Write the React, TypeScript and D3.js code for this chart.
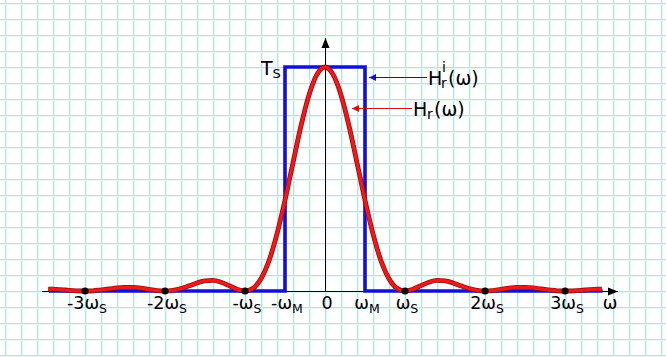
import React from "react";
import * as d3 from "d3";

// Reconstruction (ω in units of ωS, H in units of TS)
const curveU = [0, 0.1, 0.2, 0.3, 0.4, 0.5, 0.6, 0.7, 0.8, 0.9, 1.0, 1.1, 1.2, 1.3, 1.4, 1.5, 1.6, 1.7, 1.8, 1.9, 2.0, 2.1, 2.2, 2.3, 2.4, 2.5, 2.6, 2.7, 2.8, 2.9, 3.0, 3.1, 3.2, 3.3, 3.4, 3.46];
const curveH = [1, 0.967, 0.875, 0.737, 0.573, 0.405, 0.255, 0.135, 0.055, 0.012, 0, 0.008, 0.024, 0.039, 0.047, 0.045, 0.036, 0.023, 0.011, 0.003, 0, 0.002, 0.007, 0.013, 0.016, 0.016, 0.014, 0.009, 0.005, 0.001, 0, 0.001, 0.003, 0.006, 0.008, 0.008];

const idealU = [-3.45, -0.5, -0.5, 0.5, 0.5, 3.47];
const idealH = [0, 0, 1, 1, 0, 0];

const tickU = [-3, -2, -1, -0.5, 0, 0.5, 1, 2, 3];
const tickMain = ["-3ω", "-2ω", "-ω", "-ω", "0", "ω", "ω", "2ω", "3ω"];
const tickSub = ["S", "S", "S", "M", "", "M", "S", "S", "S"];
const dotU = [-3, -2, -1, 1, 2, 3];

const W = 666;
const H = 357;
const FONT = "DejaVu Sans, Verdana, sans-serif";

export default function App() {
  const x = d3.scaleLinear().domain([0, 1]).range([325, 405]);
  const y = d3.scaleLinear().domain([0, 1]).range([291, 67]);

  const pts: [number, number][] = [];
  for (let i = curveU.length - 1; i > 0; i--) pts.push([-curveU[i], curveH[i]]);
  for (let i = 0; i < curveU.length; i++) pts.push([curveU[i], curveH[i]]);

  const line = d3
    .line<[number, number]>()
    .x((d) => x(d[0]))
    .y((d) => y(d[1]))
    .curve(d3.curveMonotoneX);
  const redPath = line(pts) || "";

  const idealPath =
    d3
      .line<[number, number]>()
      .x((d) => x(d[0]))
      .y((d) => y(d[1]))(idealU.map((u, i) => [u, idealH[i]] as [number, number])) || "";

  const gridX = d3.range(5, W, 16);
  const gridY = d3.range(3, H, 16);

  const y0 = y(0);
  const x0 = x(0);

  return (
    <div style={{ position: "fixed", left: 0, top: 0 }}>
      <svg width={W} height={H} style={{ display: "block", background: "#ffffff" }}>
        <defs>
          <marker id="ah" viewBox="0 0 10 10" refX="10" refY="5" markerWidth="10" markerHeight="10" markerUnits="userSpaceOnUse" orient="auto">
            <path d="M0,1 L10,5 L0,9 Z" fill="#000" />
          </marker>
          <marker id="ahb" viewBox="0 0 10 10" refX="10" refY="5" markerWidth="8" markerHeight="7" markerUnits="userSpaceOnUse" orient="auto">
            <path d="M0,0 L10,5 L0,10 Z" fill="#1010d0" />
          </marker>
          <marker id="ahr" viewBox="0 0 10 10" refX="10" refY="5" markerWidth="8" markerHeight="7" markerUnits="userSpaceOnUse" orient="auto">
            <path d="M0,0 L10,5 L0,10 Z" fill="#d01010" />
          </marker>
        </defs>
        {/* grid */}
        <g>
          {gridX.map((gx) => (
            <g key={"gx" + gx}>
              <line x1={gx + 1.5} x2={gx + 1.5} y1={0} y2={H} stroke="#e2f7f8" strokeWidth={1} />
              <line x1={gx + 0.5} x2={gx + 0.5} y1={0} y2={H} stroke="#ace6ea" strokeWidth={1} />
            </g>
          ))}
          {gridY.map((gy) => (
            <g key={"gy" + gy}>
              <line y1={gy + 1.5} y2={gy + 1.5} x1={0} x2={W} stroke="#e2f7f8" strokeWidth={1} />
              <line y1={gy + 0.5} y2={gy + 0.5} x1={0} x2={W} stroke="#ace6ea" strokeWidth={1} />
            </g>
          ))}
        </g>
        {/* axes */}
        <line x1={42} x2={618} y1={y0 + 0.5} y2={y0 + 0.5} stroke="#000" strokeWidth={1} markerEnd="url(#ah)" />
        <line x1={x0 + 0.5} x2={x0 + 0.5} y1={y0} y2={38} stroke="#000" strokeWidth={1} markerEnd="url(#ah)" />
        {/* ideal filter */}
        <path d={idealPath} fill="none" stroke="#1010d8" strokeWidth={3.6} strokeLinejoin="miter" />
        {/* actual reconstruction */}
        <path d={redPath} fill="none" stroke="#9a0c0c" strokeWidth={4.8} strokeLinejoin="round" />
        <path d={redPath} fill="none" stroke="#ee1a1a" strokeWidth={3.2} strokeLinejoin="round" />
        {/* dots */}
        {dotU.map((u) => (
          <circle key={"d" + u} cx={x(u)} cy={y0} r={3.5} fill="#000" />
        ))}
        {/* tick labels */}
        {tickU.map((u, i) => (
          <text key={"t" + i} x={x(u) + 2} y={309} textAnchor="middle" fontFamily={FONT} fontSize={17.5} fill="#000">
            {tickMain[i]}
            {tickSub[i] ? (
              <tspan fontSize={12.5} dy={4}>
                {tickSub[i]}
              </tspan>
            ) : null}
          </text>
        ))}
        <text x={610} y={309} textAnchor="middle" fontFamily={FONT} fontSize={17.5} fill="#000">
          ω
        </text>
        {/* Ts */}
        <text x={261} y={75} fontFamily={FONT} fontSize={19} fill="#000">
          T
          <tspan fontSize={13} dy={3}>
            S
          </tspan>
        </text>
        {/* labels with arrows */}
        <line x1={427} x2={369} y1={77.5} y2={77.5} stroke="#1010d0" strokeWidth={1} markerEnd="url(#ahb)" />
        <text x={428} y={85} fontFamily={FONT} fontSize={19} fill="#000">
          H
        </text>
        <text x={441} y={88} fontFamily={FONT} fontSize={14} fill="#000">
          r
        </text>
        <text x={442} y={72} fontFamily={FONT} fontSize={14} fill="#000">
          i
        </text>
        <text x={448} y={85} fontFamily={FONT} fontSize={19} fill="#000">
          (ω)
        </text>

        <line x1={412} x2={352} y1={108.5} y2={108.5} stroke="#d01010" strokeWidth={1} markerEnd="url(#ahr)" />
        <text x={413} y={116} fontFamily={FONT} fontSize={19} fill="#000">
          H
        </text>
        <text x={427} y={119} fontFamily={FONT} fontSize={14} fill="#000">
          r
        </text>
        <text x={434} y={116} fontFamily={FONT} fontSize={19} fill="#000">
          (ω)
        </text>
      </svg>
    </div>
  );
}
